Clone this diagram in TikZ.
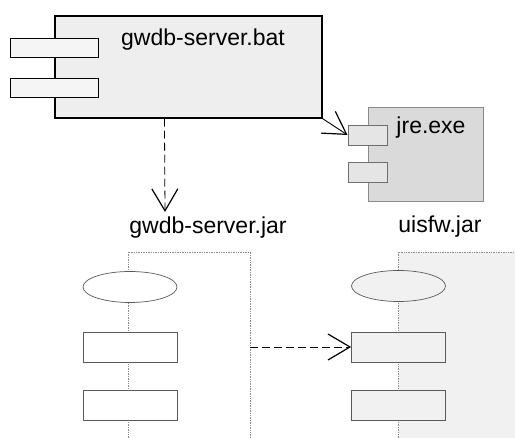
\documentclass[tikz,border=0pt]{standalone}
\usepackage{fontspec}
\setmainfont{Liberation Sans}
\usetikzlibrary{arrows.meta,shapes.geometric}
\definecolor{batfill}{HTML}{EEEEEE}
\definecolor{jrefill}{HTML}{DADADA}
\definecolor{jreline}{HTML}{8A8A8A}
\definecolor{compfill}{HTML}{F1F1F1}
\definecolor{frameline}{HTML}{8C8C8C}
\definecolor{shapeline}{HTML}{5A5A5A}
\tikzset{
  lbl/.style={inner sep=0pt, font=\fontsize{23}{26}\selectfont},
  batbox/.style={draw=black, line width=1.1pt, fill=batfill, inner sep=0pt},
  batport/.style={draw=black, line width=0.9pt, fill=batfill!60!white, inner sep=0pt, minimum width=88pt, minimum height=19pt},
  jrebox/.style={draw=jreline, line width=0.9pt, fill=jrefill, inner sep=0pt},
  jreport/.style={draw=jreline!80!black, line width=0.9pt, fill=jrefill!70!white, inner sep=0pt, minimum width=39pt, minimum height=20pt},
  invis/.style={inner sep=0pt, outer sep=0pt},
  frame/.style={draw=frameline, line width=0.7pt, densely dotted},
  ell/.style={ellipse, draw=shapeline, line width=0.7pt, inner sep=0pt, minimum width=94pt, minimum height=31pt},
  rbox/.style={draw=shapeline, line width=0.7pt, inner sep=0pt, minimum width=94pt, minimum height=30pt},
  vtip/.style={-{Straight Barb[length=22pt,width=26pt,line width=1.2pt]}},
  dep/.style={draw=black, line width=0.8pt, dash pattern=on 8pt off 4pt, vtip},
  depsolid/.style={draw=black, line width=0.9pt, vtip}
}
\begin{document}
\begin{tikzpicture}[x=1pt,y=-1pt]
\useasboundingbox (0,0) rectangle (515,438);
\fill[white] (0,0) rectangle (515,438);

% gwdb-server.bat
\node[batbox, minimum width=267pt, minimum height=102pt] (bat) at (188.5,67) {};
\node[batport] (bp1) at (54,47.5) {};
\node[batport] (bp2) at (54,87.5) {};
\node[lbl] (batlbl) at (203,40) {gwdb-server.bat};

% jre.exe
\node[jrebox, minimum width=115pt, minimum height=94pt] (jre) at (425.5,154) {};
\node[jreport] (jp1) at (367.5,135) {};
\node[jreport] (jp2) at (367.5,172.5) {};
\node[lbl] (jrelbl) at (431,128) {jre.exe};

% bat -> jre
\draw[depsolid] (bat.south east) -- (jp1.west);

% labels of jars
\node[lbl] (jarlbl) at (208,228) {gwdb-server.jar};
\node[lbl] (uilbl) at (440,227) {uisfw.jar};

% bat -> gwdb-server.jar
\coordinate (battip) at (165,212);
\draw[dep] ([xshift=110pt]bat.south west) -- (battip);

% left component
\node[invis, minimum width=122pt, minimum height=186pt] (lcomp) at (189,345) {};
\draw[frame] (lcomp.south west) -- (lcomp.north west) -- (lcomp.north east) -- (lcomp.south east);
\node[ell, fill=white] (le) at (130,287) {};
\node[rbox, fill=white] (lr1) at (130,347) {};
\node[rbox, fill=white] (lr2) at (130,405) {};

% right component
\node[invis, minimum width=117pt, minimum height=186pt, fill=compfill] (rcomp) at (456.5,345) {};
\draw[frame] (rcomp.south west) -- (rcomp.north west) -- (rcomp.north east);
\node[ell, fill=compfill] (re) at (398.5,286) {};
\node[rbox, fill=compfill] (rr1) at (398.5,347) {};
\node[rbox, fill=compfill] (rr2) at (398.5,405) {};

% left -> right
\draw[dep] (lcomp.east |- rr1.west) -- (rr1.west);
\end{tikzpicture}
\end{document}
